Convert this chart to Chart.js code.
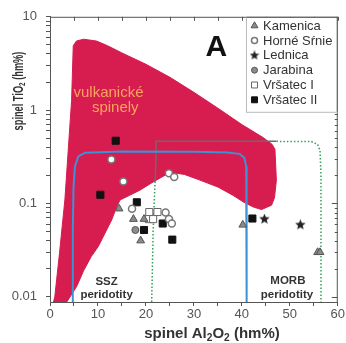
<!DOCTYPE html>
<html>
<head>
<meta charset="utf-8">
<script src="https://cdn.jsdelivr.net/npm/chart.js@4.4.1/dist/chart.umd.min.js"></script>
<style>
  html, body { margin: 0; padding: 0; background: #fff; }
  #wrap { width: 346px; height: 343px; position: relative; }
</style>
</head>
<body>
<div id="wrap"><canvas id="chart"></canvas></div>
<script>
// data: [Al2O3, TiO2]
let yMin = 0.0088;
let yMajor = [0.01, 0.1, 1, 10];

let kamenica = [[14.4, 0.088], [17.4, 0.068], [19.6, 0.068], [18.9, 0.040], [40.2, 0.059], [55.8, 0.030], [56.3, 0.030]];
let horneSrnie = [[12.8, 0.296], [15.3, 0.172], [24.8, 0.211], [25.9, 0.192], [17.1, 0.088], [24.1, 0.080], [24.8, 0.068], [25.4, 0.061]];
let lednica = [[44.7, 0.068], [52.2, 0.059]];
let jarabina = [[17.8, 0.052]];
let vrsatec1 = [[20.7, 0.081], [22.4, 0.081], [20.6, 0.068], [21.5, 0.068]];
let vrsatec2 = [[13.7, 0.47], [10.5, 0.124], [18.1, 0.103], [19.6, 0.052], [23.5, 0.061], [25.5, 0.041], [42.2, 0.069]];

// outline of the volcanic spinel field
let volcanicField = [
  [0.73, 0.0088], [1.0, 0.01], [2.0, 0.03], [3.1, 0.109], [4.5, 1.27], [4.85, 4.9], [5.5, 5.5],
  [7, 5.75], [9.7, 5.5], [12, 4.9], [15, 4.1], [20, 3.1], [25, 2.25], [30, 1.55], [35, 1.05],
  [40, 0.7], [44.4, 0.51], [46.3, 0.43], [46.9, 0.38], [47.2, 0.177], [46.8, 0.115], [46.2, 0.096],
  [44.1, 0.086], [42.3, 0.092], [40.3, 0.104], [38.2, 0.122], [35, 0.15], [31.25, 0.178], [28, 0.205],
  [26, 0.212], [24.3, 0.205], [21.5, 0.17], [18.75, 0.139], [16.7, 0.123], [14.6, 0.109], [13.9, 0.092],
  [12.85, 0.0665], [11.46, 0.048], [10.06, 0.0345], [8.6, 0.027], [7, 0.019], [5.56, 0.0129], [3.5, 0.0088],
  [0.73, 0.0088]
];
// SSZ peridotite field
let sszField = [
  [4.65, 0.0088], [4.75, 0.05], [4.9, 0.15], [5.2, 0.25], [5.9, 0.32], [7.3, 0.35], [15, 0.36],
  [30, 0.358], [37, 0.352], [39.5, 0.34], [40.5, 0.31], [40.9, 0.25], [41.0, 0.15], [41.0, 0.0088]
];
// MORB peridotite field
let morbField = [
  [21.2, 0.0088], [21.5, 0.05], [21.9, 0.17], [22.1, 0.3], [22.1, 0.463], [47.2, 0.463],
  [54.5, 0.46], [55.8, 0.43], [56.3, 0.37], [56.5, 0.2], [56.5, 0.0088]
];

let yTickValues = [];
yMajor.slice(0, -1).forEach(d => {
  for (let m = 1; m <= 9; m++) yTickValues.push(+(d * m).toPrecision(6));
});
yTickValues.push(10);

let fam = '"Liberation Sans", Arial, sans-serif';
let red = '#d71c4f';

let pts = arr => arr.map(p => ({x: p[0], y: p[1]}));

function starImage(size) {
  let c = document.createElement('canvas');
  c.width = c.height = size;
  let g = c.getContext('2d');
  g.fillStyle = '#222';
  g.beginPath();
  for (let i = 0; i < 10; i++) {
    let r = i % 2 ? size * 0.22 : size * 0.5;
    let a = -Math.PI / 2 + i * Math.PI / 5;
    g.lineTo(size / 2 + r * Math.cos(a), size / 2 + r * Math.sin(a));
  }
  g.closePath();
  g.fill();
  return c;
}
let star = starImage(11);
let starSmall = starImage(10);

function inRed(c) {
  let a = c.p0.parsed, b = c.p1.parsed;
  return a.y >= 0.17 && b.y >= 0.17 && Math.max(a.x, b.x) <= 47.2;
}

function richText(ctx, parts, x, y, size) {
  let widths = parts.map(p => {
    ctx.font = 'bold ' + (p.sub ? size * 0.68 : size) + 'px ' + fam;
    return ctx.measureText(p.t).width;
  });
  let cx = x - widths.reduce((s, w) => s + w, 0) / 2;
  ctx.textAlign = 'left';
  ctx.textBaseline = 'alphabetic';
  parts.forEach((p, i) => {
    ctx.font = 'bold ' + (p.sub ? size * 0.68 : size) + 'px ' + fam;
    ctx.fillText(p.t, cx, y + (p.sub ? size * 0.2 : 0));
    cx += widths[i];
  });
}

let decor = {
  id: 'decor',
  afterDatasetsDraw(chart) {
    let {ctx, chartArea: a, scales: {x, y}} = chart;
    ctx.save();
    // frame
    ctx.strokeStyle = '#555';
    ctx.lineWidth = 1;
    ctx.strokeRect(a.left + 0.5, a.top + 0.5, a.right - a.left - 1, a.bottom - a.top);
    // inward ticks on top and right
    ctx.beginPath();
    x.ticks.forEach(t => {
      let px = Math.round(x.getPixelForValue(t.value)) + 0.5;
      ctx.moveTo(px, a.top);
      ctx.lineTo(px, a.top + 4);
    });
    y.ticks.forEach(t => {
      let py = Math.round(y.getPixelForValue(t.value)) + 0.5;
      let len = yMajor.includes(t.value) ? 6 : 3;
      ctx.moveTo(a.right, py);
      ctx.lineTo(a.right - len, py);
    });
    ctx.stroke();

    // labels inside the plot
    ctx.textAlign = 'center';
    ctx.textBaseline = 'middle';
    ctx.fillStyle = '#f6a55c';
    ctx.font = '15px ' + fam;
    ctx.fillText('vulkanické', x.getPixelForValue(12.2), y.getPixelForValue(1.55));
    ctx.fillText('spinely', x.getPixelForValue(13.6), y.getPixelForValue(1.06));

    ctx.fillStyle = '#333';
    ctx.font = 'bold 11.5px ' + fam;
    ctx.fillText('SSZ', x.getPixelForValue(11.8), y.getPixelForValue(0.0145));
    ctx.fillText('peridotity', x.getPixelForValue(11.8), y.getPixelForValue(0.0105));
    ctx.fillText('MORB', x.getPixelForValue(49.6), y.getPixelForValue(0.0147));
    ctx.fillText('peridotity', x.getPixelForValue(49.4), y.getPixelForValue(0.0105));

    ctx.fillStyle = '#111';
    ctx.font = 'bold 30px ' + fam;
    ctx.fillText('A', x.getPixelForValue(34.7), y.getPixelForValue(4.7));
    ctx.restore();
  },
  afterDraw(chart) {
    let {ctx, chartArea: a} = chart;
    ctx.save();
    // legend box
    let lx = 246.5, ly = a.top + 0.5, lw = a.right - 0.5 - lx, lh = 95;
    ctx.fillStyle = '#fff';
    ctx.fillRect(lx, ly, lw, lh);
    ctx.strokeStyle = '#bbb';
    ctx.lineWidth = 1;
    ctx.strokeRect(lx, ly, lw, lh);
    ctx.strokeStyle = '#555';
    ctx.beginPath();
    ctx.moveTo(lx, a.top + 0.5); ctx.lineTo(a.right, a.top + 0.5);
    ctx.moveTo(a.right - 0.5, a.top); ctx.lineTo(a.right - 0.5, a.top + lh);
    ctx.stroke();

    let items = chart.data.datasets.filter(d => d.inLegend);
    items.forEach((d, i) => {
      let cy = a.top + 9 + i * 14.8;
      ctx.fillStyle = d.backgroundColor;
      ctx.strokeStyle = d.borderColor;
      ctx.lineWidth = d.borderWidth;
      Chart.helpers.drawPoint(ctx, {
        pointStyle: d.legendStyle || d.pointStyle,
        radius: d.legendRadius,
        borderWidth: d.borderWidth,
        rotation: 0
      }, 254.5, cy);
      ctx.fillStyle = '#333';
      ctx.font = '13px ' + fam;
      ctx.textAlign = 'left';
      ctx.textBaseline = 'middle';
      ctx.fillText(d.label, 263, cy + 0.5);
    });

    // axis titles
    ctx.fillStyle = '#333';
    richText(ctx, [{t: 'spinel Al'}, {t: '2', sub: true}, {t: 'O'}, {t: '2', sub: true}, {t: ' (hm%)'}], 212, 338, 15);
    ctx.translate(18, 91);
    ctx.rotate(-Math.PI / 2);
    ctx.scale(0.66, 1);
    richText(ctx, [{t: 'spinel TiO'}, {t: '2', sub: true}, {t: ' (hm%)'}], 0, 4.5, 14);
    ctx.restore();
  }
};

let ctx = document.getElementById('chart').getContext('2d');
let chart = new Chart(ctx, {
  type: 'scatter',
  data: {
    datasets: [
      {label: 'Kamenica', data: pts(kamenica), inLegend: true, pointStyle: 'triangle', pointRadius: 4.5, legendRadius: 4,
       backgroundColor: '#8a8a8a', borderColor: '#555', borderWidth: 1, order: 1},
      {label: 'Horné Sŕnie', data: pts(horneSrnie), inLegend: true, pointStyle: 'circle', pointRadius: 3.5, legendRadius: 3,
       backgroundColor: '#fff', borderColor: '#777', borderWidth: 1.5, order: 2},
      {label: 'Lednica', data: pts(lednica), inLegend: true, pointStyle: star, legendStyle: starSmall, pointRadius: 5, legendRadius: 4,
       backgroundColor: '#222', borderColor: '#222', borderWidth: 1, order: 3},
      {label: 'Jarabina', data: pts(jarabina), inLegend: true, pointStyle: 'circle', pointRadius: 3.5, legendRadius: 3,
       backgroundColor: '#8c8c8c', borderColor: '#555', borderWidth: 1, order: 4},
      {label: 'Vršatec I', data: pts(vrsatec1), inLegend: true, pointStyle: 'rect', pointRadius: 5, legendRadius: 4.2,
       backgroundColor: '#fff', borderColor: '#666', borderWidth: 1, order: 5},
      {label: 'Vršatec II', data: pts(vrsatec2), inLegend: true, pointStyle: 'rect', pointRadius: 5, legendRadius: 4.2,
       backgroundColor: '#111', borderColor: '#111', borderWidth: 1, order: 6},
      {label: 'SSZ', data: pts(sszField), showLine: true, pointRadius: 0, borderColor: '#3a92d8', borderWidth: 2,
       tension: 0, order: 7},
      {label: 'MORB', data: pts(morbField), showLine: true, pointRadius: 0, borderColor: '#2fa05a', borderWidth: 1.5,
       borderDash: [1.5, 2], tension: 0, order: 8,
       segment: {
         borderColor: c => inRed(c) ? '#6b6b6b' : '#2fa05a',
         borderDash: c => inRed(c) ? [] : [1.5, 2]
       }},
      {label: 'vulkanické spinely', data: pts(volcanicField), showLine: true, pointRadius: 0, borderColor: red,
       backgroundColor: red, borderWidth: 1, fill: 'shape', tension: 0, order: 9}
    ]
  },
  options: {
    responsive: true,
    maintainAspectRatio: false,
    animation: false,
    layout: {padding: {top: 16, right: 8, left: 0, bottom: 0}},
    plugins: {legend: {display: false}, tooltip: {enabled: false}},
    scales: {
      x: {
        type: 'linear', min: 0, max: 60,
        afterFit: s => { s.height = 41; },
        ticks: {stepSize: 5, autoSkip: false, maxRotation: 0, padding: 1, color: '#555',
                font: {size: 13, family: fam}, callback: v => v % 10 === 0 ? String(v) : ''},
        grid: {drawOnChartArea: false, tickLength: 4, color: '#555'},
        border: {color: '#555'}
      },
      y: {
        type: 'logarithmic', min: yMin, max: 10,
        afterFit: s => { s.width = 50; },
        afterBuildTicks: s => { s.ticks = yTickValues.map(v => ({value: v})); },
        ticks: {autoSkip: false, padding: 9, color: '#555', font: {size: 13, family: fam},
                callback: v => yMajor.includes(v) ? String(v) : ''},
        grid: {drawOnChartArea: false, tickLength: 4, color: '#555'},
        border: {color: '#555'}
      }
    }
  },
  plugins: [decor]
});
</script>
</body>
</html>
